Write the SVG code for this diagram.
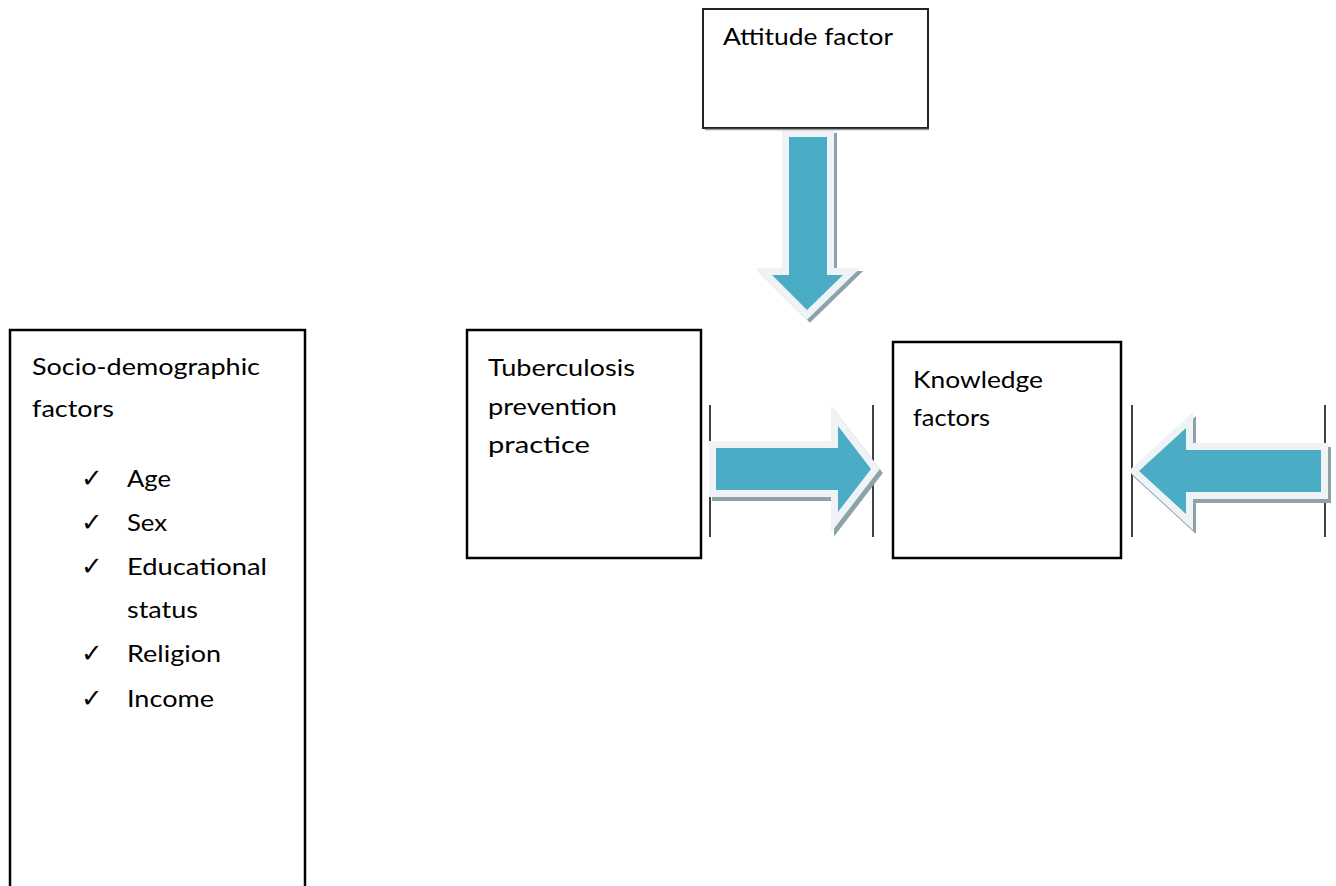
<svg xmlns="http://www.w3.org/2000/svg" width="1336" height="886" viewBox="0 0 1336 886">
<style>
.box{fill:#ffffff;stroke:#000000;stroke-width:2.5}
.lbl{font-family:Lato,"Open Sans","Liberation Sans",sans-serif;font-size:24px;fill:#000000}
.chk{font-family:"DejaVu Sans",sans-serif;font-size:26px;fill:#000000}
.shadow{fill:#8ea2aa;stroke:#8ea2aa;stroke-width:14;stroke-linejoin:miter;stroke-miterlimit:4}
.halo{fill:#4bacc6;stroke:#eff3f5;stroke-width:14;stroke-linejoin:miter;stroke-miterlimit:4}
.blue{fill:#4bacc6}
.bar{stroke:#111111;stroke-width:1.6;fill:none}
</style>
<rect width="1336" height="886" fill="#ffffff"/>
<g id="connectors">
  <g id="arrow-down">
    <polygon class="shadow" transform="translate(3,3)" points="789,137 827,137 827,275 843,275 807,310 772,275 789,275"/>
    <polygon class="halo" points="789,137 827,137 827,275 843,275 807,310 772,275 789,275"/>
    <polygon class="blue" points="789,137 827,137 827,275 843,275 807,310 772,275 789,275"/>
  </g>
  <g id="arrow-right">
    <line class="bar" x1="710" y1="405" x2="710" y2="537"/>
    <line class="bar" x1="873" y1="405" x2="873" y2="537"/>
    <polygon class="shadow" transform="translate(3,4)" points="716,448 838,448 838,426 871,469 838,512 838,490 716,490"/>
    <polygon class="halo" points="716,448 838,448 838,426 871,469 838,512 838,490 716,490"/>
    <polygon class="blue" points="716,448 838,448 838,426 871,469 838,512 838,490 716,490"/>
  </g>
  <g id="arrow-left">
    <line class="bar" x1="1132" y1="405" x2="1132" y2="537"/>
    <line class="bar" x1="1325" y1="405" x2="1325" y2="537"/>
    <polygon class="shadow" transform="translate(3,4)" points="1321,450 1186,450 1186,428 1139,471 1186,514 1186,492 1321,492"/>
    <polygon class="halo" points="1321,450 1186,450 1186,428 1139,471 1186,514 1186,492 1321,492"/>
    <polygon class="blue" points="1321,450 1186,450 1186,428 1139,471 1186,514 1186,492 1321,492"/>
  </g>
</g>
<g id="node-attitude">
  <rect x="703" y="9" width="225" height="119" fill="#ffffff" stroke="#222222" stroke-width="2"/>
  <line x1="705" y1="129.5" x2="929" y2="129.5" stroke="#999999" stroke-width="1.5"/>
  <text class="lbl" x="723" y="45" font-size="22" fill="#222222" textLength="170" lengthAdjust="spacingAndGlyphs">Attitude factor</text>
</g>
<g id="node-socio">
  <rect class="box" x="10" y="330" width="295" height="580"/>
  <text class="lbl" x="32" y="375" textLength="228" lengthAdjust="spacingAndGlyphs">Socio-demographic</text>
  <text class="lbl" x="32" y="417" textLength="82" lengthAdjust="spacingAndGlyphs">factors</text>
  <text class="chk" x="81" y="487">✓</text>
  <text class="lbl" x="127" y="487" textLength="44" lengthAdjust="spacingAndGlyphs">Age</text>
  <text class="chk" x="81" y="531">✓</text>
  <text class="lbl" x="127" y="531" textLength="40" lengthAdjust="spacingAndGlyphs">Sex</text>
  <text class="chk" x="81" y="575">✓</text>
  <text class="lbl" x="127" y="575" textLength="140" lengthAdjust="spacingAndGlyphs">Educational</text>
  <text class="lbl" x="127" y="618" textLength="71" lengthAdjust="spacingAndGlyphs">status</text>
  <text class="chk" x="81" y="662">✓</text>
  <text class="lbl" x="127" y="662" textLength="94" lengthAdjust="spacingAndGlyphs">Religion</text>
  <text class="chk" x="81" y="707">✓</text>
  <text class="lbl" x="127" y="707" textLength="87" lengthAdjust="spacingAndGlyphs">Income</text>
</g>
<g id="node-tb">
  <rect class="box" x="467" y="330" width="234" height="228"/>
  <text class="lbl" x="488" y="376" textLength="147" lengthAdjust="spacingAndGlyphs">Tuberculosis</text>
  <text class="lbl" x="488" y="415" textLength="129" lengthAdjust="spacingAndGlyphs">prevention</text>
  <text class="lbl" x="488" y="453" textLength="102" lengthAdjust="spacingAndGlyphs">practice</text>
</g>
<g id="node-knowledge">
  <rect class="box" x="893" y="342" width="228" height="216"/>
  <text class="lbl" x="913" y="388" textLength="130" lengthAdjust="spacingAndGlyphs">Knowledge</text>
  <text class="lbl" x="913" y="426" textLength="77" lengthAdjust="spacingAndGlyphs">factors</text>
</g>
</svg>
